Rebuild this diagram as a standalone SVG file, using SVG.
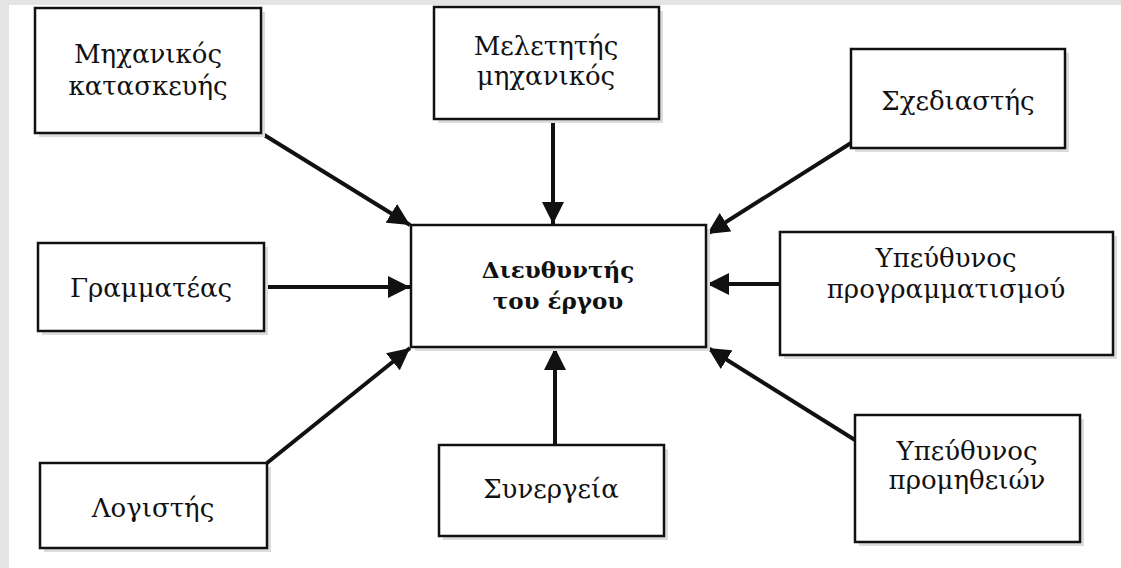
<svg xmlns="http://www.w3.org/2000/svg" width="1121" height="568" viewBox="0 0 1121 568">
<style>
.bx{fill:#fff;stroke:#111;stroke-width:2.5}
.sh{fill:#dcdcdc}
.t{font-family:"DejaVu Serif","Liberation Serif",serif;font-size:26px;fill:#111;text-anchor:middle}
.b{font-weight:bold;font-size:23px}
.c{stroke:#111;stroke-width:4;fill:none}
</style>
<defs>
<marker id="ah" markerUnits="userSpaceOnUse" markerWidth="24" markerHeight="22" refX="22" refY="11" orient="auto">
<path d="M0,0 L22,11 L0,22 Z" fill="#111"/>
</marker>
</defs>
<rect x="0" y="0" width="1121" height="568" fill="#fff"/>
<rect x="0" y="0" width="1121" height="5" fill="#e4e4e4"/>
<rect x="0" y="0" width="9" height="568" fill="#e4e4e4"/>

<g id="connectors">
<line class="c" x1="261" y1="133" x2="410" y2="225" marker-end="url(#ah)"/>
<line class="c" x1="553" y1="119" x2="553" y2="224" marker-end="url(#ah)"/>
<line class="c" x1="851" y1="143" x2="707" y2="234" marker-end="url(#ah)"/>
<line class="c" x1="264" y1="287" x2="410" y2="287" marker-end="url(#ah)"/>
<line class="c" x1="780" y1="284" x2="707" y2="284" marker-end="url(#ah)"/>
<line class="c" x1="267" y1="463" x2="410" y2="348" marker-end="url(#ah)"/>
<line class="c" x1="555" y1="445" x2="555" y2="348" marker-end="url(#ah)"/>
<line class="c" x1="855" y1="440" x2="708" y2="348" marker-end="url(#ah)"/>
</g>

<g id="n-mechanikos-kataskeuis">
<rect class="sh" x="39" y="12" width="226" height="125"/>
<rect class="bx" x="35" y="8" width="226" height="125"/>
<text class="t" x="148" y="63">Μηχανικός</text>
<text class="t" x="148" y="95">κατασκευής</text>
</g>
<g id="n-meletitis">
<rect class="sh" x="438" y="11" width="225" height="112"/>
<rect class="bx" x="434" y="7" width="225" height="112"/>
<text class="t" x="546" y="55">Μελετητής</text>
<text class="t" x="546" y="85">μηχανικός</text>
</g>
<g id="n-schediastis">
<rect class="sh" x="855" y="53" width="214" height="99"/>
<rect class="bx" x="851" y="49" width="214" height="99"/>
<text class="t" x="958" y="110">Σχεδιαστής</text>
</g>
<g id="n-grammateas">
<rect class="sh" x="42" y="247" width="226" height="88"/>
<rect class="bx" x="38" y="243" width="226" height="88"/>
<text class="t" x="151" y="297">Γραμματέας</text>
</g>
<g id="n-dieuthyntis">
<rect class="sh" x="415" y="229" width="295" height="122"/>
<rect class="bx" x="411" y="225" width="295" height="122"/>
<text class="t b" x="558" y="278">Διευθυντής</text>
<text class="t b" x="558" y="309">του έργου</text>
</g>
<g id="n-programmatismou">
<rect class="sh" x="784" y="236" width="333" height="123"/>
<rect class="bx" x="780" y="232" width="333" height="123"/>
<text class="t" x="946" y="267">Υπεύθυνος</text>
<text class="t" x="946" y="298">προγραμματισμού</text>
</g>
<g id="n-logistis">
<rect class="sh" x="44" y="467" width="227" height="85"/>
<rect class="bx" x="40" y="463" width="227" height="85"/>
<text class="t" x="153" y="517">Λογιστής</text>
</g>
<g id="n-synergeia">
<rect class="sh" x="443" y="449" width="225" height="91"/>
<rect class="bx" x="439" y="445" width="225" height="91"/>
<text class="t" x="551" y="498">Συνεργεία</text>
</g>
<g id="n-promitheion">
<rect class="sh" x="859" y="419" width="225" height="127"/>
<rect class="bx" x="855" y="415" width="225" height="127"/>
<text class="t" x="967" y="460">Υπεύθυνος</text>
<text class="t" x="967" y="489">προμηθειών</text>
</g>
</svg>
